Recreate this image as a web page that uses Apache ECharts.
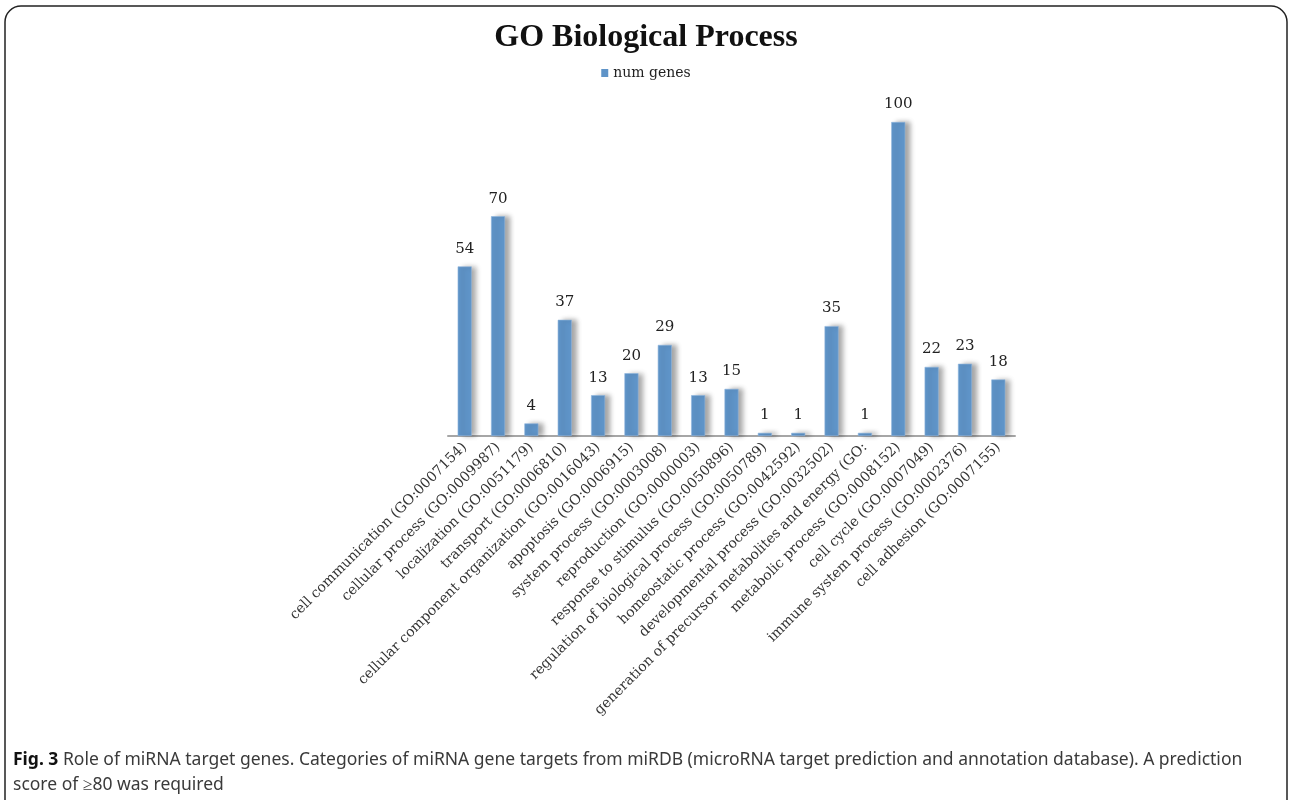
<!DOCTYPE html>
<html>
<head>
<meta charset="utf-8">
<script src="https://cdn.jsdelivr.net/npm/echarts@6/dist/echarts.min.js"></script>
<style>
  html, body { margin: 0; padding: 0; background: #fff; }
  #main { width: 1292px; height: 800px; }
</style>
</head>
<body>
<div id="main"></div>
<script>
// categories + values
var categories = [
    'cell communication (GO:0007154)',
    'cellular process (GO:0009987)',
    'localization (GO:0051179)',
    'transport (GO:0006810)',
    'cellular component organization (GO:0016043)',
    'apoptosis (GO:0006915)',
    'system process (GO:0003008)',
    'reproduction (GO:0000003)',
    'response to stimulus (GO:0050896)',
    'regulation of biological process (GO:0050789)',
    'homeostatic process (GO:0042592)',
    'developmental process (GO:0032502)',
    'generation of precursor metabolites and energy (GO:',
    'metabolic process (GO:0008152)',
    'cell cycle (GO:0007049)',
    'immune system process (GO:0002376)',
    'cell adhesion (GO:0007155)'
];
var numGenes = [54, 70, 4, 37, 13, 20, 29, 13, 15, 1, 1, 35, 1, 100, 22, 23, 18];

var captionLine1 = 'Role of miRNA target genes. Categories of miRNA gene targets from miRDB (microRNA target prediction and annotation database). A prediction';
var captionLine2 = 'score of \u226580 was required';

var chart = echarts.init(document.getElementById('main'));

var option = {
    backgroundColor: '#fff',
    animation: false,
    title: {
        text: 'GO Biological Process',
        left: 'center',
        top: 17,
        textStyle: {
            fontFamily: 'Liberation Serif',
            fontWeight: 'bold',
            fontSize: 32,
            color: '#111'
        }
    },
    legend: {
        data: ['num genes'],
        top: 61,
        left: 'center',
        icon: 'rect',
        itemWidth: 7,
        itemHeight: 8,
        itemGap: 4,
        itemStyle: { shadowBlur: 0, shadowOffsetX: 0, borderWidth: 0 },
        textStyle: { fontFamily: 'DejaVu Serif', fontSize: 14, color: '#222' }
    },
    grid: {
        left: 448,
        right: 277,
        top: 122,
        bottom: 364,
        containLabel: false
    },
    xAxis: {
        type: 'category',
        data: categories,
        axisLine: { lineStyle: { color: '#a6a6a6', width: 2 } },
        axisTick: { show: false },
        axisLabel: {
            rotate: 45,
            interval: 0,
            margin: 9,
            fontFamily: 'DejaVu Serif',
            fontSize: 14,
            color: '#333'
        }
    },
    yAxis: {
        type: 'value',
        min: 0,
        max: 100,
        show: false,
        splitLine: { show: false }
    },
    series: [{
        name: 'num genes',
        type: 'bar',
        data: numGenes,
        barWidth: 14,
        itemStyle: {
            color: '#5f94c8',
            borderColor: '#8fb5dd',
            borderWidth: 0.6,
            shadowColor: 'rgba(0,0,0,0.35)',
            shadowBlur: 5,
            shadowOffsetX: 5,
            shadowOffsetY: 0
        },
        label: {
            show: true,
            position: 'top',
            distance: 10,
            fontFamily: 'DejaVu Serif',
            fontSize: 15,
            color: '#222'
        }
    }],
    graphic: [
        {
            type: 'rect',
            shape: { x: 5, y: 6, width: 1282, height: 840, r: 16 },
            style: { fill: 'none', stroke: '#222', lineWidth: 1.5 },
            silent: true
        },
        {
            type: 'text',
            left: 13,
            top: 748,
            style: {
                text: '{b|Fig. 3} ' + captionLine1 + '\n' + captionLine2,
                fontFamily: 'Noto Sans',
                fontSize: 17.5,
                lineHeight: 25,
                fill: '#3a3a3a',
                rich: {
                    b: { fontFamily: 'Noto Sans', fontWeight: 'bold', fontSize: 17.5, fill: '#111' }
                }
            }
        }
    ]
};

chart.setOption(option);
</script>
</body>
</html>
